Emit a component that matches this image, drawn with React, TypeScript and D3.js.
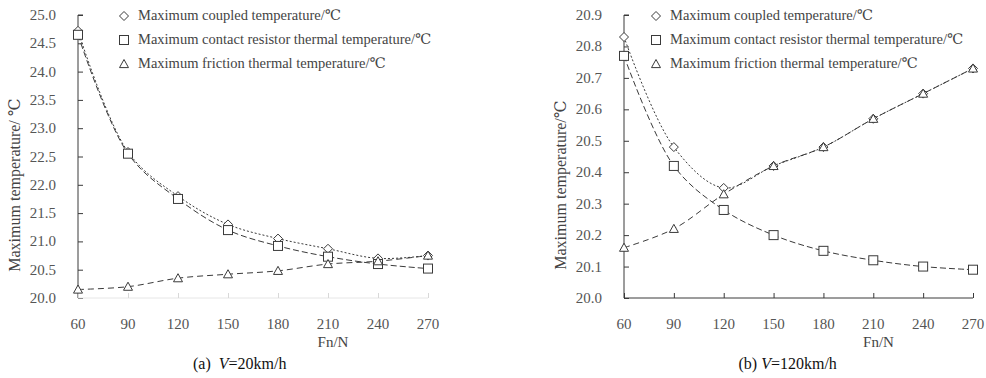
import * as d3 from "d3";
import { useEffect, useRef } from "react";

// shared x categories (Fn/N)
const forces = [60, 90, 120, 150, 180, 210, 240, 270];

// (a) V=20km/h
const coupledA = [24.72, 22.58, 21.8, 21.3, 21.05, 20.87, 20.7, 20.75];
const contactA = [24.65, 22.55, 21.75, 21.2, 20.92, 20.73, 20.6, 20.52];
const frictionA = [20.15, 20.2, 20.35, 20.42, 20.48, 20.6, 20.65, 20.75];
const yTicksA = [20.0, 20.5, 21.0, 21.5, 22.0, 22.5, 23.0, 23.5, 24.0, 24.5, 25.0];

// (b) V=120km/h
const coupledB = [20.83, 20.48, 20.35, 20.42, 20.48, 20.57, 20.65, 20.73];
const contactB = [20.77, 20.42, 20.28, 20.2, 20.15, 20.12, 20.1, 20.09];
const frictionB = [20.16, 20.22, 20.33, 20.42, 20.48, 20.57, 20.65, 20.73];
const yTicksB = [20.0, 20.1, 20.2, 20.3, 20.4, 20.5, 20.6, 20.7, 20.8, 20.9];

const legendLabels = [
    "Maximum coupled temperature/\u2103",
    "Maximum contact resistor thermal temperature/\u2103",
    "Maximum friction thermal temperature/\u2103",
];

interface PanelProps {
    left: number;
    right: number;
    yDomain: [number, number];
    yTicks: number[];
    series: number[][];
    yLabel: string;
    caption: string;
    captionV: string;
    legendX: number;
    faintX: boolean;
}

const ink = "#3a3a3a";
const font = "Liberation Serif, DejaVu Serif, Times New Roman, serif";

function drawMarker(g: d3.Selection<SVGGElement, unknown, null, undefined>, kind: number, x: number, y: number) {
    const s = 4.5;
    if (kind === 0) {
        g.append("path")
            .attr("d", `M${x},${y - s}L${x + s},${y}L${x},${y + s}L${x - s},${y}Z`)
            .attr("fill", "white").attr("stroke", ink).attr("stroke-width", 1);
    } else if (kind === 1) {
        g.append("rect")
            .attr("x", x - s).attr("y", y - s).attr("width", 2 * s).attr("height", 2 * s)
            .attr("fill", "white").attr("stroke", ink).attr("stroke-width", 1);
    } else {
        g.append("path")
            .attr("d", `M${x},${y - s}L${x + s},${y + s * 0.8}L${x - s},${y + s * 0.8}Z`)
            .attr("fill", "white").attr("stroke", ink).attr("stroke-width", 1);
    }
}

const Panel: React.FC<PanelProps> = ({ left, right, yDomain, yTicks, series, yLabel, caption, captionV, legendX, faintX }) => {
    const gRef = useRef<SVGGElement | null>(null);

    useEffect(() => {
        const g = d3.select(gRef.current!);
        g.selectAll("*").remove();
        const top = 15;
        const bottom = 298;

        const x = d3.scaleLinear().domain([60, 270]).range([left, right]);
        const y = d3.scaleLinear().domain(yDomain).range([bottom, top]);

        // axes
        const yAxis = g.append("g")
            .attr("transform", `translate(${left},0)`)
            .call(d3.axisRight(y).tickValues(yTicks).tickSize(5).tickFormat(() => ""));
        yAxis.select(".domain").attr("stroke", ink).attr("d", `M5,${top}H0V${bottom}`);
        yAxis.selectAll("line").attr("stroke", ink);

        const xAxis = g.append("g")
            .attr("transform", `translate(0,${bottom})`)
            .call(d3.axisTop(x).tickValues(forces).tickSize(5).tickFormat(() => ""));
        xAxis.select(".domain").attr("stroke", faintX ? "#e6e6e6" : ink).attr("d", `M${left},0H${right}`);
        xAxis.selectAll("line").attr("stroke", faintX ? "#d8d8d8" : ink);

        // tick labels
        g.selectAll(".ylab").data(yTicks).join("text")
            .attr("x", left - 22).attr("y", (d) => y(d) + 5)
            .attr("text-anchor", "end").attr("font-size", 15).attr("fill", "#555")
            .style("font-family", font).text((d) => d.toFixed(1));
        g.selectAll(".xlab").data(forces).join("text")
            .attr("x", (d) => x(d)).attr("y", 329)
            .attr("text-anchor", "middle").attr("font-size", 15).attr("fill", "#555")
            .style("font-family", font).text((d) => String(d));

        // lines
        const dashes = ["2,2", "6,3", "6,4"];
        const line = d3.line<number>()
            .x((_, i) => x(forces[i]))
            .y((d) => y(d))
            .curve(d3.curveCatmullRom);
        series.forEach((vals, k) => {
            g.append("path").attr("d", line(vals)!).attr("fill", "none")
                .attr("stroke", ink).attr("stroke-width", 1).attr("stroke-dasharray", dashes[k]);
        });
        series.forEach((vals, k) => {
            vals.forEach((v, i) => drawMarker(g, k, x(forces[i]), y(v)));
        });

        // legend
        legendLabels.forEach((t, k) => {
            const ly = 16 + k * 24;
            drawMarker(g, k, legendX, ly);
            g.append("text").attr("x", legendX + 14).attr("y", ly + 4)
                .attr("font-size", 14.5).attr("fill", "#444").style("font-family", font).text(t);
        });

        // titles
        g.append("text")
            .attr("transform", `translate(${left - 58},185) rotate(-90)`)
            .attr("text-anchor", "middle").attr("font-size", 16).attr("fill", "#444")
            .style("font-family", font).text(yLabel);
        g.append("text").attr("x", (left + right) / 2 + 80).attr("y", 347)
            .attr("text-anchor", "middle").attr("font-size", 15).attr("fill", "#444")
            .style("font-family", font).text("Fn/N");
        const cap = g.append("text").attr("x", (left + right) / 2 - 60).attr("y", 369)
            .attr("text-anchor", "start").attr("font-size", 16).attr("fill", "#111")
            .style("font-family", font);
        cap.append("tspan").text(caption);
        cap.append("tspan").attr("font-style", "italic").text("V");
        cap.append("tspan").text(captionV);
    }, [left, right, yDomain, yTicks, series, yLabel, caption, captionV, legendX, faintX]);

    return <g ref={gRef}></g>;
};

export default function App() {
    return (
        <svg width={986} height={378} style={{ position: "absolute", left: 0, top: 0, background: "white" }}>
            <Panel left={78} right={428} yDomain={[20, 25]} yTicks={yTicksA}
                series={[coupledA, contactA, frictionA]} yLabel={"Maximum temperature/ \u2103"}
                caption={"(a)\u00a0\u00a0"} captionV="=20km/h" legendX={124} faintX={true} />
            <Panel left={624} right={973} yDomain={[20, 20.9]} yTicks={yTicksB}
                series={[coupledB, contactB, frictionB]} yLabel={"Maximum temperature/\u2103"}
                caption="(b) " captionV="=120km/h" legendX={656} faintX={false} />
        </svg>
    );
}
